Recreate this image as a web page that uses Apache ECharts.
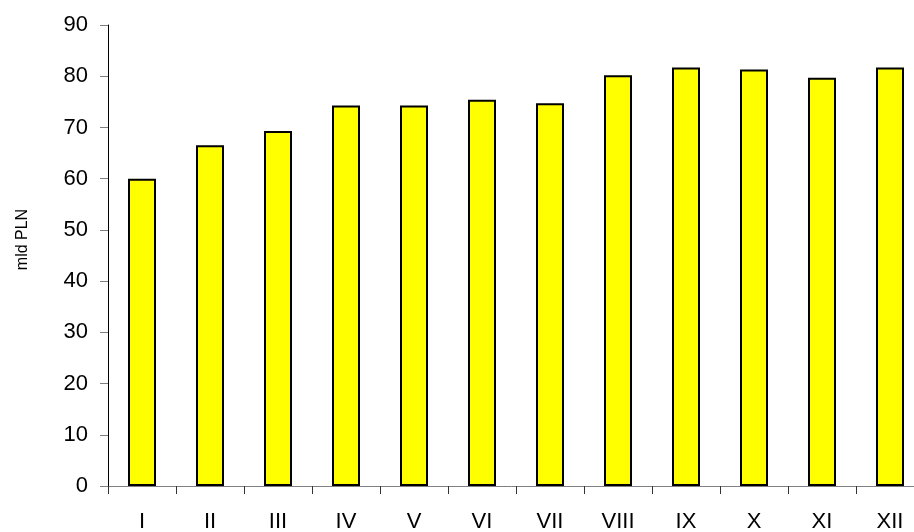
<!DOCTYPE html>
<html>
<head>
    <meta charset="utf-8">
    <title>mld PLN</title>
    <script src="https://cdn.jsdelivr.net/npm/echarts@6/dist/echarts.min.js"></script>
    <style>
        html, body { margin: 0; padding: 0; background: #fff; }
        #chartmain { width: 914px; height: 532px; }
    </style>
</head>
<body>
<div id="chartmain"></div>
<script type="text/javascript">
    // miesiace i wartosci (mld PLN)
    var months = ['I', 'II', 'III', 'IV', 'V', 'VI', 'VII', 'VIII', 'IX', 'X', 'XI', 'XII'];
    var values = [60.0, 66.5, 69.3, 74.3, 74.3, 75.4, 74.7, 80.2, 81.7, 81.3, 79.7, 81.7];
    var yTicks = [0, 10, 20, 30, 40, 50, 60, 70, 80, 90];

    var option = {
        animation: false,
        textStyle: { fontFamily: 'Liberation Sans, Arial, sans-serif' },
        // the plot runs past the right edge of the picture
        grid: { left: 108, width: 816, top: 25, height: 461, outerBoundsMode: 'none', containLabel: false },
        xAxis: {
            type: 'category',
            data: months,
            axisLine: { lineStyle: { color: '#808080', width: 1 } },
            axisTick: { show: true, length: 8, lineStyle: { color: '#333' } },
            axisLabel: { color: '#000', fontSize: 22, margin: 25 },
            splitLine: { show: false }
        },
        yAxis: {
            type: 'value',
            min: yTicks[0],
            max: yTicks[yTicks.length - 1],
            interval: 10,
            name: 'mld PLN',
            nameLocation: 'middle',
            nameGap: 77,
            nameTextStyle: { color: '#000', fontSize: 16, padding: [0, 0, 0, 32] },
            axisLine: { show: true, lineStyle: { color: '#000', width: 1 } },
            axisTick: { show: true, length: 8, lineStyle: { color: '#808080' } },
            axisLabel: { color: '#000', fontSize: 22, margin: 20 },
            splitLine: { show: false }
        },
        series: [
            {
                name: 'mld PLN',
                type: 'bar',
                data: values,
                barWidth: 28,
                itemStyle: {
                    color: '#ffff00',
                    borderColor: '#000',
                    borderWidth: 2
                }
            }
        ]
    };

    var myChart = echarts.init(document.getElementById('chartmain'));
    myChart.setOption(option);
</script>
</body>
</html>
